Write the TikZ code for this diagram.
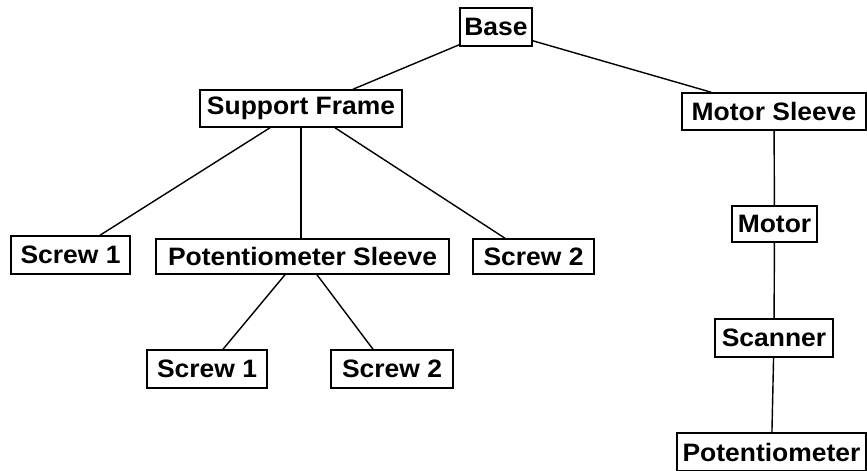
\documentclass[tikz,border=0pt]{standalone}
\usepackage{fontspec}
\newfontfamily\partfont{Liberation Sans}[FakeStretch=1.05]
\usepackage{tikz}
\usetikzlibrary{calc}

\begin{document}
\begin{tikzpicture}[x=0.03cm, y=-0.03cm,
    part/.style={draw, line width=1.3pt, fill=white, inner sep=0pt,
      font=\partfont\bfseries\fontsize{21.5}{23}\selectfont},
    link/.style={line width=1.2pt}]
  \useasboundingbox (0, 0) rectangle (867, 470);

  % top level
  \node[part, minimum width=72*0.03cm, minimum height=38*0.03cm] (base) at (496, 27) {Base};
  \node[part, minimum width=202*0.03cm, minimum height=37*0.03cm] (frame) at (301, 108.5) {Support Frame};
  \node[part, minimum width=184*0.03cm, minimum height=37*0.03cm] (msleeve) at (774, 111.5) {Motor Sleeve};

  % support frame branch
  \node[part, minimum width=119*0.03cm, minimum height=38*0.03cm] (screwA) at (70.5, 255) {Screw 1};
  \node[part, minimum width=293*0.03cm, minimum height=35*0.03cm] (psleeve) at (302.5, 256.5) {Potentiometer Sleeve};
  \node[part, minimum width=121*0.03cm, minimum height=35*0.03cm] (screwB) at (533.5, 256.5) {Screw 2};
  \node[part, minimum width=120*0.03cm, minimum height=38*0.03cm] (screwC) at (207, 369) {Screw 1};
  \node[part, minimum width=122*0.03cm, minimum height=38*0.03cm] (screwD) at (392, 369) {Screw 2};

  % motor sleeve branch
  \node[part, minimum width=85*0.03cm, minimum height=36*0.03cm] (motor) at (774.5, 224) {Motor};
  \node[part, minimum width=118*0.03cm, minimum height=38*0.03cm] (scanner) at (774, 338) {Scanner};
  \node[part, minimum width=189*0.03cm, minimum height=38*0.03cm] (pot) at (771.5, 452) {Potentiometer};

  % links
  \draw[link] ($(base.south west)+(0,-2)$) -- ($(frame.north)+(52,0)$);
  \draw[link] ($(base.south east)+(0,-6)$) -- ($(msleeve.north west)+(30,0)$);
  \draw[link] ($(frame.south)+(-31,0)$) -- ($(screwA.north)+(29.5,0)$);
  \draw[link] (frame.south) -- (frame.south |- psleeve.north);
  \draw[link] ($(frame.south)+(34,0)$) -- ($(screwB.north)+(-28.5,0)$);
  \draw[link] ($(psleeve.south)+(-17.5,0)$) -- ($(screwC.north)+(16,0)$);
  \draw[link] ($(psleeve.south)+(14.5,0)$) -- ($(screwD.north)+(-19,0)$);
  \draw[link] (msleeve) -- (motor);
  \draw[link] (motor) -- (scanner);
  \draw[link] (scanner) -- (pot);
\end{tikzpicture}
\end{document}
